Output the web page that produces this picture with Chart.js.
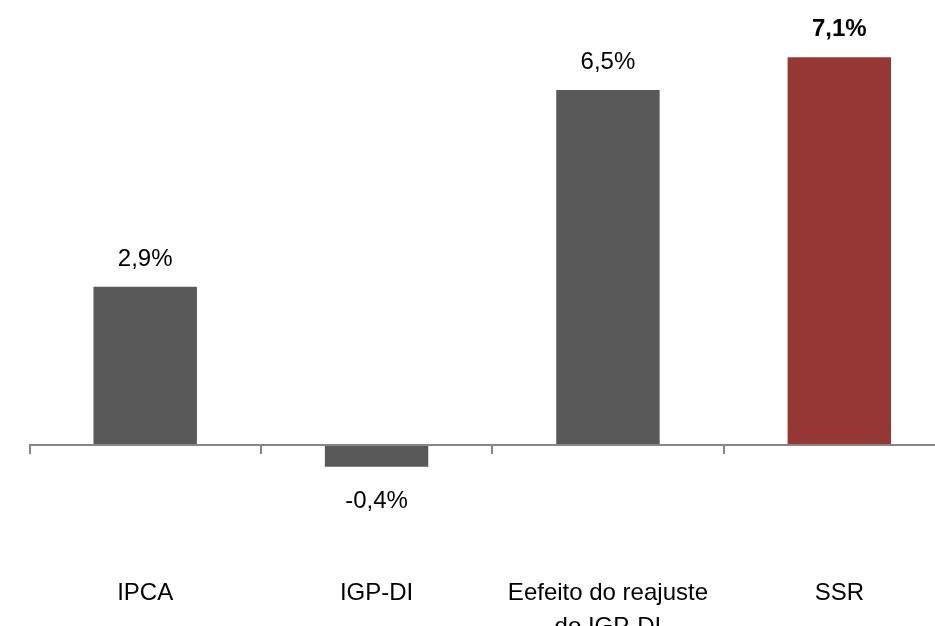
<!DOCTYPE html>
<html>
<head>
<meta charset="utf-8">
<script src="https://cdn.jsdelivr.net/npm/chart.js@4.4.1/dist/chart.umd.min.js"></script>
<style>
  html, body { margin: 0; padding: 0; overflow: hidden; background: #ffffff; }
  #wrap { width: 960px; height: 626px; }
</style>
</head>
<body>
<div id="wrap"><canvas id="chart" width="960" height="626"></canvas></div>
<script>
// Categories and values (percent change)
const categories = ['IPCA', 'IGP-DI', ['Eefeito do reajuste', 'do IGP-DI'], 'SSR'];
const values = [2.9, -0.4, 6.5, 7.1];

const GREY = '#595959';
const RED = '#953735';
const AXIS = '#868686';
const FONT = '"Liberation Sans", Arial, Helvetica, sans-serif';
const highlighted = values.length - 1;

function fmt(v) {
  return v.toFixed(1).replace('.', ',') + '%';
}

// Value labels above positive bars, below negative ones
const valueLabels = {
  id: 'valueLabels',
  afterDatasetsDraw(chart) {
    const ctx = chart.ctx;
    const meta = chart.getDatasetMeta(0);
    ctx.save();
    ctx.fillStyle = '#000000';
    ctx.textAlign = 'center';
    ctx.textBaseline = 'alphabetic';
    meta.data.forEach((bar, i) => {
      const v = values[i];
      ctx.font = (i === highlighted ? 'bold ' : '') + '24px ' + FONT;
      const y = v >= 0 ? bar.y - 21 : bar.y + 41;
      ctx.fillText(fmt(v), bar.x, y);
    });
    ctx.restore();
  }
};

new Chart(document.getElementById('chart'), {
  type: 'bar',
  data: {
    labels: categories,
    datasets: [{
      data: values,
      backgroundColor: (c) => c.dataIndex === highlighted ? RED : GREY,
      borderWidth: 0,
      categoryPercentage: 1,
      barPercentage: 0.447
    }]
  },
  options: {
    responsive: false,
    animation: false,
    devicePixelRatio: 1,
    layout: { padding: { left: 29.5, right: 5, top: 8.2, bottom: 126.4 } },
    plugins: {
      legend: { display: false },
      tooltip: { enabled: false }
    },
    scales: {
      y: {
        display: false,
        min: -1,
        max: 8
      },
      x: {
        position: { y: 0 },
        offset: true,
        // category labels sit well inside their slots; no extra edge padding
        afterFit(scale) {
          scale.paddingLeft = 0;
          scale.paddingRight = 0;
        },
        grid: {
          offset: true,
          drawOnChartArea: false,
          drawTicks: true,
          tickLength: 8,
          color: AXIS,
          lineWidth: 2
        },
        border: { display: true, color: AXIS, width: 2, z: 1 },
        ticks: {
          color: '#000000',
          padding: 123,
          maxRotation: 0,
          autoSkip: false,
          font: { family: FONT, size: 24, lineHeight: 1.42 }
        }
      }
    }
  },
  plugins: [valueLabels]
});
</script>
</body>
</html>
